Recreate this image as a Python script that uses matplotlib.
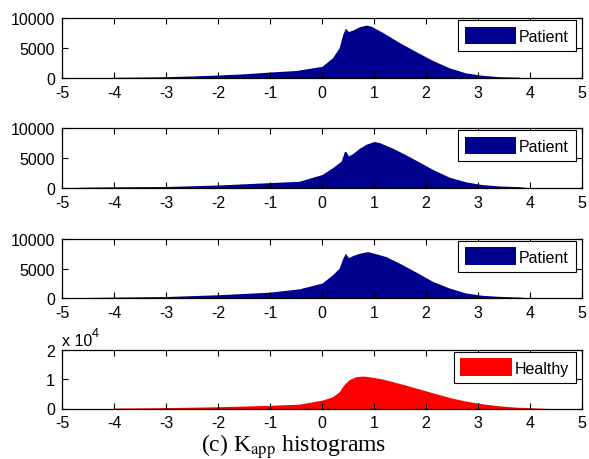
import matplotlib
matplotlib.use('Agg')
import matplotlib.pyplot as plt
from matplotlib.patches import Patch

plt.rcParams['font.family'] = ['Liberation Sans', 'DejaVu Sans']
plt.rcParams['mathtext.fontset'] = 'stix'
plt.rcParams['axes.unicode_minus'] = False

# bin centre / count pairs
x_p1 = [-4.0, -3.5, -3.0, -2.5, -2.0, -1.5, -1.0, -0.5, 0.0, 0.2, 0.33, 0.4, 0.45, 0.51, 0.59,
        0.72, 0.85, 0.94, 1.17, 1.49, 1.81, 2.13, 2.45, 2.77, 3.09, 3.41, 3.79, 3.85]
y_p1 = [120, 160, 220, 340, 500, 700, 1000, 1250, 1950, 3350, 5050, 7300, 8300, 7750, 7980,
        8540, 8820, 8650, 7580, 5900, 4380, 2920, 1690, 840, 450, 220, 150, 0]

x_p2 = [-4.95, -4.5, -4.0, -3.0, -2.0, -1.5, -1.0, -0.44, 0.0, 0.2, 0.37, 0.43, 0.46, 0.51, 0.59,
        0.72, 0.85, 1.0, 1.1, 1.36, 1.62, 1.87, 2.13, 2.45, 2.77, 3.09, 3.41, 3.79, 4.05]
y_p2 = [60, 150, 200, 250, 500, 700, 900, 1120, 2250, 3370, 4490, 6070, 6070, 5340, 5730,
        6630, 7300, 7750, 7580, 6630, 5500, 4330, 3090, 1800, 1010, 560, 340, 220, 0]

x_p3 = [-4.6, -4.0, -3.0, -2.0, -1.0, -0.44, 0.0, 0.2, 0.33, 0.4, 0.45, 0.51, 0.59, 0.72, 0.88,
        1.0, 1.23, 1.49, 1.81, 2.13, 2.45, 2.77, 3.09, 3.41, 3.79, 4.0]
y_p3 = [80, 150, 250, 550, 1000, 1550, 2530, 3930, 5060, 6740, 7580, 6850, 7190, 7580, 7870,
        7580, 7020, 5900, 4380, 2810, 1690, 840, 450, 280, 170, 0]

x_h = [-4.0, -3.0, -2.0, -1.0, -0.44, 0.0, 0.2, 0.33, 0.43, 0.53, 0.65, 0.78, 0.91, 1.17, 1.49,
       1.81, 2.13, 2.45, 2.77, 3.09, 3.41, 3.73, 4.05, 4.38]
y_h = [150, 300, 600, 1100, 1490, 2860, 4000, 5710, 8340, 9940, 10860, 11090, 10860, 10060, 8570,
       6970, 5370, 3770, 2510, 1600, 910, 460, 230, 0]

patient_color = '#00008f'
healthy_color = '#ff0000'
fs = 11.5

fig = plt.figure(figsize=(5.89, 4.60), dpi=100)
left = 62 / 589
width = (582 - 62) / 589
boxes = [(1 - 79 / 460, 60 / 460), (1 - 189 / 460, 60 / 460),
         (1 - 299 / 460, 59 / 460), (1 - 409.5 / 460, 58.5 / 460)]

panels = [(x_p1, y_p1, patient_color, 'Patient', 10000),
          (x_p2, y_p2, patient_color, 'Patient', 10000),
          (x_p3, y_p3, patient_color, 'Patient', 10000),
          (x_h, y_h, healthy_color, 'Healthy', 20000)]

for (bottom, height), (xs, ys, col, lab, ymax) in zip(boxes, panels):
    ax = fig.add_axes([left, bottom, width, height])
    ax.fill_between(xs, 0, ys, color=col, linewidth=0)
    ax.set_xlim(-5, 5)
    ax.set_ylim(0, ymax)
    ax.set_xticks(range(-5, 6))
    if ymax == 10000:
        ax.set_yticks([0, 5000, 10000])
        ax.set_yticklabels(['0', '5000', '10000'])
    else:
        ax.set_yticks([0, 10000, 20000])
        ax.set_yticklabels(['0', '1', '2'])
        ax.text(0.0, 1.04, 'x 10', transform=ax.transAxes, fontsize=fs, ha='left', va='bottom')
        ax.text(0.057, 1.18, '4', transform=ax.transAxes, fontsize=fs * 0.8, ha='left', va='bottom')
    ax.tick_params(direction='in', top=True, right=True, length=4, width=0.8,
                   labelsize=fs, pad=5, colors='black')
    for s in ax.spines.values():
        s.set_linewidth(0.9)
    h = Patch(facecolor=col, edgecolor='none')
    leg = ax.legend([h], [lab], loc='upper right', bbox_to_anchor=(0.988, 0.97),
                    borderaxespad=0.0, fontsize=fs, fancybox=False, framealpha=1,
                    edgecolor='black', handlelength=3.2, handleheight=1.35,
                    handletextpad=0.2, borderpad=0.42)
    leg.get_frame().set_linewidth(0.8)

fig.text(294 / 589, 1 - 447 / 460, '(c) K$_{\\mathrm{app}}$ histograms', ha='center', va='center',
         fontsize=17, family=['Liberation Serif', 'DejaVu Serif'])

fig.savefig('out.png', dpi=100)
